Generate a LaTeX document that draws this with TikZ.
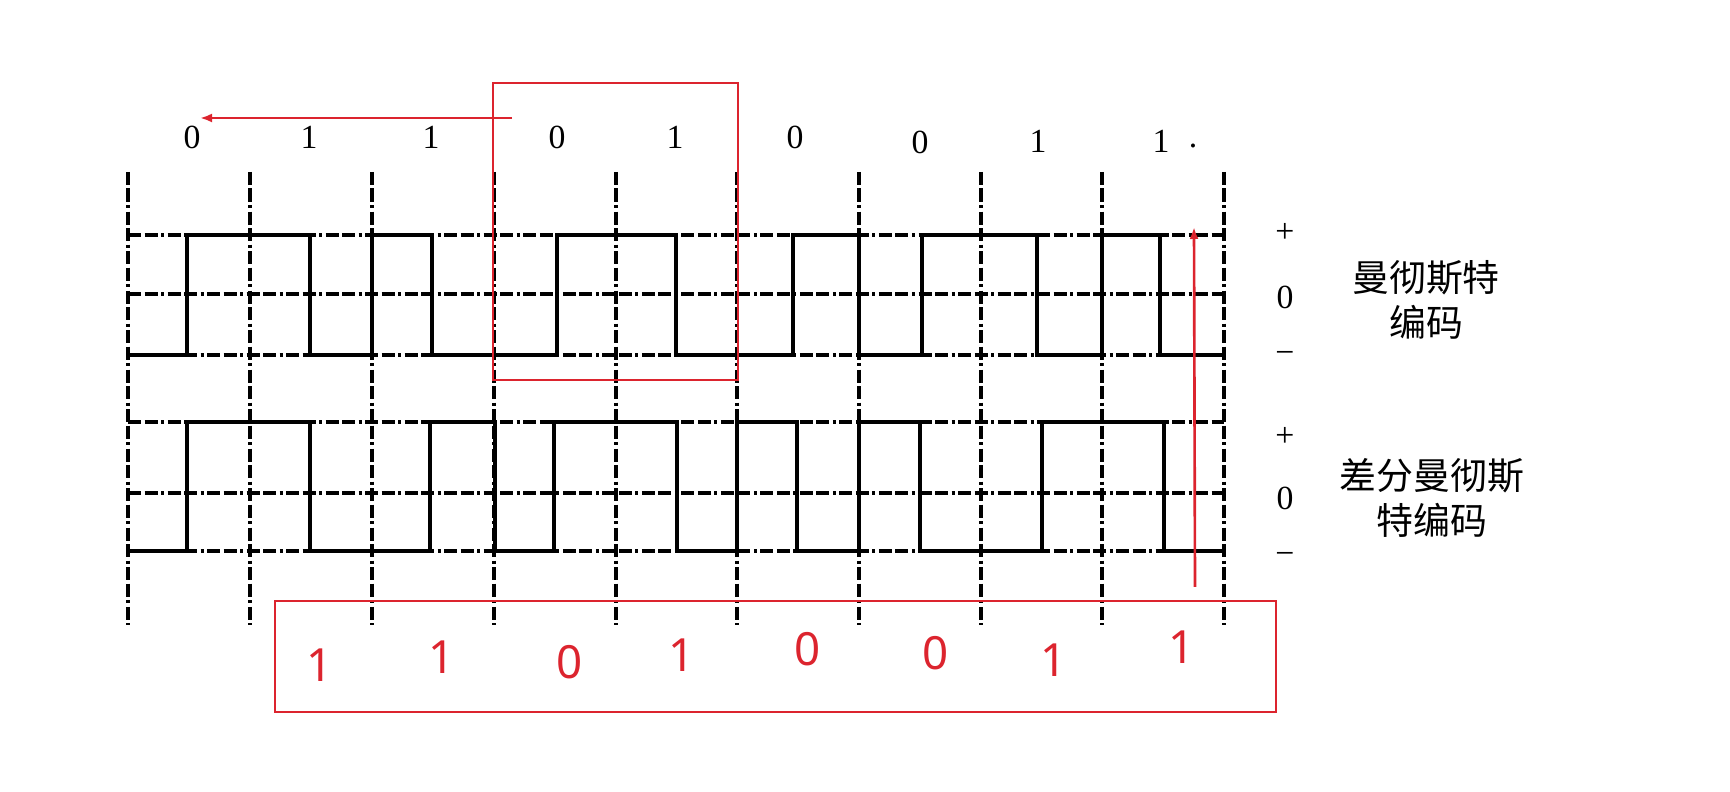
\documentclass[tikz,border=0pt]{standalone}
\usepackage{fontspec}
\setmainfont{Liberation Serif}
\newfontfamily\cjk{Noto Sans CJK SC}
\newfontfamily\digitfont{Noto Sans}
\usetikzlibrary{arrows.meta}
\definecolor{markred}{RGB}{220,36,46}
\tikzset{
  gridline/.style={line width=0.9pt, dash pattern=on 0.13cm off 0.035cm on 0.13cm off 0.035cm on 0.03cm off 0.035cm},
  wave/.style={line width=1.2pt, line join=miter},
  bit/.style={font=\fontsize{9.6}{11}\selectfont, inner sep=0pt},
  lvl/.style={font=\fontsize{9.6}{11}\selectfont, inner sep=0pt},
  codename/.style={font=\cjk\fontsize{10.5}{12.6}\selectfont, align=center, inner sep=0pt},
  rbit/.style={font=\digitfont\fontsize{13}{15}\selectfont, text=markred, inner sep=0pt},
  markbox/.style={draw=markred, line width=0.75pt},
  markarrow/.style={markred, line width=0.75pt, -{Latex[length=0.12cm,width=0.09cm]}}
}

\begin{document}
\begin{tikzpicture}[x=0.01cm, y=-0.01cm]
	\useasboundingbox (0,0) rectangle (1730,792);
	% grid
	\draw[gridline] (128,172) -- (128,625) (250,172) -- (250,625) (372,172) -- (372,625)
	  (494,172) -- (494,625) (616,172) -- (616,625) (737,172) -- (737,625)
	  (859,172) -- (859,625) (981,172) -- (981,625) (1102,172) -- (1102,625) (1224,172) -- (1224,625);
	\draw[gridline] (128,235) -- (1224,235) (128,294) -- (1224,294) (128,355) -- (1224,355);
	\draw[gridline] (128,422) -- (1224,422) (128,493) -- (1224,493) (128,551) -- (1224,551);
	%
	\node[bit] (b0) at (192,137) {0};
	\node[bit] (b1) at (309,137) {1};
	\node[bit] (b2) at (431,137) {1};
	\node[bit] (b3) at (557,137) {0};
	\node[bit] (b4) at (675,137) {1};
	\node[bit] (b5) at (795,137) {0};
	\node[bit] (b6) at (920,142) {0};
	\node[bit] (b7) at (1038,141) {1};
	\node[bit] (b8) at (1161,141) {1};
	\node[bit] (dot) at (1193,146) {.};
	% manchester
	\draw[wave] (128,355) -- (187,355) -- (187,235) -- (310,235) -- (310,355) -- (372,355) -- (372,235)
	  -- (432,235) -- (432,355) -- (557,355) -- (557,235) -- (676,235) -- (676,355) -- (793,355)
	  -- (793,235) -- (859,235) -- (859,355) -- (922,355) -- (922,235) -- (1037,235) -- (1037,355)
	  -- (1102,355) -- (1102,235) -- (1160,235) -- (1160,355) -- (1224,355);
	% differential manchester
	\draw[wave] (128,551) -- (187,551) -- (187,422) -- (310,422) -- (310,551) -- (430,551) -- (430,422)
	  -- (495,422) -- (495,551) -- (554,551) -- (554,422) -- (677,422) -- (677,551) -- (737,551)
	  -- (737,422) -- (797,422) -- (797,551) -- (859,551) -- (859,422) -- (920,422) -- (920,551)
	  -- (1042,551) -- (1042,422) -- (1164,422) -- (1164,551) -- (1224,551);
	%
	\node[lvl] (uplus) at (1285,233) {+};
	\node[lvl] (uzero) at (1285,297) {0};
	\node[lvl] (uminus) at (1285,357) {−};
	\node[lvl] (dplus) at (1285,437) {+};
	\node[lvl] (dzero) at (1285,498) {0};
	\node[lvl] (dminus) at (1285,558) {−};
	\node[codename] (mname) at (1426,300) {曼彻斯特\\编码};
	\node[codename] (dname) at (1432,498) {差分曼彻斯\\特编码};
	% red marks
	\draw[markbox] (493,83) rectangle (738,380);
	\draw[markbox] (275,601) rectangle (1276,712);
	\coordinate (ltail) at (512,118);
	\coordinate (lhead) at (200,118);
	\coordinate (vtail) at (1195,587);
	\coordinate (vhead) at (1194,227);
	\draw[markarrow] (ltail) -- (lhead);
	\draw[markarrow] (vtail) -- (vhead);
	\node[rbit] (r1) at (320,665) {1};
	\node[rbit] (r2) at (442,657) {1};
	\node[rbit] (r3) at (570,662) {0};
	\node[rbit] (r4) at (682,655) {1};
	\node[rbit] (r5) at (808,649) {0};
	\node[rbit] (r6) at (936,653) {0};
	\node[rbit] (r7) at (1054,660) {1};
	\node[rbit] (r8) at (1182,647) {1};
\end{tikzpicture}
\end{document}
